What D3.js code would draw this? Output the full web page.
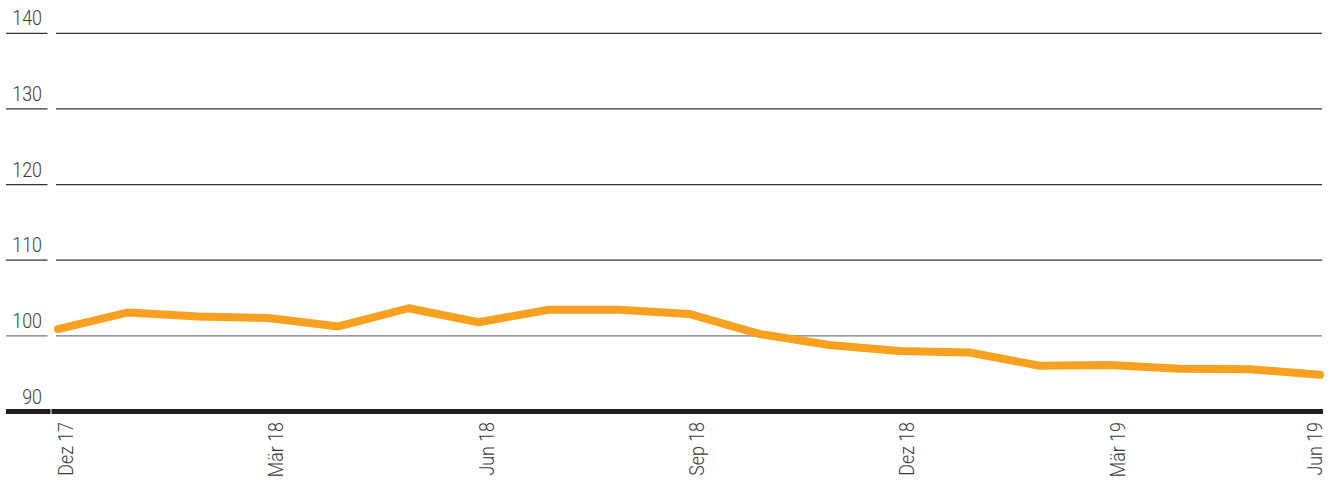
<!DOCTYPE html>
<html>
<head>
<meta charset="utf-8">
<script src="https://cdn.jsdelivr.net/npm/d3@7"></script>
<style>
  html, body { margin: 0; padding: 0; background: #fff; }
  #chart { width: 1330px; height: 481px; }
  text { font-family: "Roboto", "Open Sans", sans-serif; font-weight: 300; fill: #3a3a3a; }
</style>
</head>
<body>
<div id="chart"></div>
<script>
// months on the x axis (every month, Dez 17 .. Jun 19)
const months = ["Dez 17", "Jan 18", "Feb 18", "Mär 18", "Apr 18", "Mai 18", "Jun 18",
  "Jul 18", "Aug 18", "Sep 18", "Okt 18", "Nov 18", "Dez 18", "Jan 19", "Feb 19",
  "Mär 19", "Apr 19", "Mai 19", "Jun 19"];
// index values
const values = [100.9, 103.1, 102.55, 102.35, 101.25, 103.65, 101.8, 103.45, 103.45, 102.9,
  100.25, 98.8, 98.0, 97.8, 96.05, 96.15, 95.65, 95.6, 94.85];
// labelled months
const tickLabels = ["Dez 17", "Mär 18", "Jun 18", "Sep 18", "Dez 18", "Mär 19", "Jun 19"];
const yTicks = [90, 100, 110, 120, 130, 140];

const width = 1330, height = 481;

const svg = d3.select("#chart").append("svg")
  .attr("width", width)
  .attr("height", height);

const x = d3.scalePoint().domain(months).range([58, 1320]);
const y = d3.scaleLinear().domain([90, 140]).range([411.5, 33.3]);

// grid lines: short stub on the left, long line on the right
const grid = svg.append("g");
yTicks.filter(t => t > 90).forEach(t => {
  const col = t === 100 ? "#777" : "#333";
  grid.append("line")
    .attr("x1", 6).attr("x2", 47.5)
    .attr("y1", y(t)).attr("y2", y(t))
    .attr("stroke", col).attr("stroke-width", 1.2);
  grid.append("line")
    .attr("x1", 56).attr("x2", 1322)
    .attr("y1", y(t)).attr("y2", y(t))
    .attr("stroke", col).attr("stroke-width", 1.2);
});

// base line at 90
grid.append("line")
  .attr("x1", 6).attr("x2", 50.5)
  .attr("y1", y(90)).attr("y2", y(90))
  .attr("stroke", "#231f20").attr("stroke-width", 5);
grid.append("line")
  .attr("x1", 51.5).attr("x2", 1323)
  .attr("y1", y(90)).attr("y2", y(90))
  .attr("stroke", "#231f20").attr("stroke-width", 5);

// y labels (font is narrow in the original, so squeeze a bit)
svg.append("g").selectAll("text")
  .data(yTicks)
  .enter()
  .append("text")
  .attr("transform", d => `translate(42,${y(d) - 8}) scale(0.85,1)`)
  .attr("text-anchor", "end")
  .attr("font-size", "21px")
  .text(d => d);

// x labels, rotated; last one pulled in so it stays on the page
svg.append("g").selectAll("text")
  .data(tickLabels)
  .enter()
  .append("text")
  .attr("transform", d => `translate(${Math.min(x(d) + 15, 1322)},422) rotate(-90) scale(0.85,1)`)
  .attr("text-anchor", "end")
  .attr("font-size", "21px")
  .text(d => d);

// the line
const line = d3.line()
  .x((d, i) => x(months[i]))
  .y(d => y(d));

svg.append("path")
  .datum(values)
  .attr("d", line)
  .attr("fill", "none")
  .attr("stroke", "#f8a01f")
  .attr("stroke-width", 8)
  .attr("stroke-linecap", "round")
  .attr("stroke-linejoin", "round");
</script>
</body>
</html>
